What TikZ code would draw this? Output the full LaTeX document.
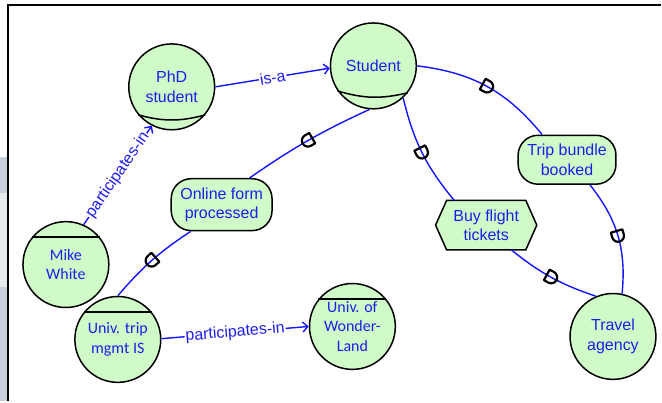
\documentclass[tikz,border=0pt]{standalone}
\usepackage{fontspec}
\setmainfont{Liberation Sans}
\newfontfamily\calfont{Carlito}
\usetikzlibrary{arrows.meta,decorations.markings,backgrounds,calc}
\definecolor{nodefill}{RGB}{208,250,200}
\definecolor{txtblue}{RGB}{30,30,235}
\definecolor{lnblue}{RGB}{20,20,255}
\definecolor{stripA}{RGB}{198,209,220}
\definecolor{stripB}{RGB}{230,234,238}
\begin{document}
\begin{tikzpicture}[x=1pt,y=1pt,
  ent/.style={circle, draw=black, line width=1.5pt, fill=nodefill, minimum size=86pt, inner sep=0pt, align=center, text=txtblue, font=\fontsize{16}{19.5}\selectfont},
  agent/.style={ent, font=\calfont\fontsize{16}{19.5}\selectfont},
  goal/.style={rectangle, rounded corners=20pt, draw=black, line width=1.5pt, fill=nodefill, inner sep=0pt, align=center, text=txtblue, font=\fontsize{16}{19.5}\selectfont},
  task/.style={rectangle, inner sep=0pt, align=center, text=txtblue, font=\fontsize{16}{19.5}\selectfont, minimum width=101pt, minimum height=49pt},
  capl/.style={draw=black, line width=1.5pt},
  conn/.style={draw=lnblue, line width=1.4pt},
  arr/.style={conn, -{Straight Barb[length=5pt,width=10pt]}},
  lbl/.style={sloped, fill=white, inner sep=1pt, text=txtblue, font=\fontsize{16}{19}\selectfont},
  dmark/.style={postaction={decorate, decoration={markings, mark=at position 0.5 with {\draw[black, line width=2.2pt, line join=round] (-5pt,6pt) -- (0pt,6pt) arc[start angle=90, end angle=-90, radius=6pt] -- (-5pt,-6pt) -- cycle;}}}}
]
\begin{scope}[on background layer]
  \fill[white] (0,0) rectangle (662,-402);
  \fill[stripA] (0,-157) rectangle (7,-193);
  \fill[stripB] (0,-193) rectangle (7,-287);
  \fill[stripA] (0,-287) rectangle (7,-402);
  \draw[line width=2.2pt] (8,-402) -- (8,-5) -- (662,-5);
\end{scope}
\useasboundingbox (0,0) rectangle (662,-402);

% nodes
\node[ent] (phd) at (172,-87) {PhD\\student};
\node[ent] (student) at (374,-66) {Student};
\node[agent] (mike) at (66,-265) {Mike\\White};
\node[agent] (uts) at (118,-340) {Univ. trip\\mgmt IS};
\node[agent] (uow) at (353,-327) {Univ. of\\Wonder-\\Land};
\node[ent] (ta) at (614,-337) {Travel\\agency};
\node[goal, minimum width=101pt, minimum height=52pt] (ofp) at (222,-205) {Online form\\processed};
\node[goal, minimum width=98pt, minimum height=49pt] (tbb) at (568,-160) {Trip bundle\\booked};
\node[task] (bft) at (487,-225.5) {Buy flight\\tickets};
\begin{scope}[on background layer]
  \draw[fill=nodefill, line width=1.5pt, line join=miter]
    (bft.west) -- ([xshift=11pt]bft.north west) -- ([xshift=-11pt]bft.north east)
    -- (bft.east) -- ([xshift=-11pt]bft.south east) -- ([xshift=11pt]bft.south west) -- cycle;
\end{scope}

% caps
\draw[capl] (phd.-140) to[bend right=15] (phd.-40);
\draw[capl] (student.-145) to[bend right=15] (student.-38);
\draw[capl] (mike.141) -- (mike.39);
\draw[capl] (uts.141) -- (uts.39);
\draw[capl] (uow.141) -- (uow.39);

% labelled links
\draw[arr] (phd.0) -- node[lbl]{is-a} (student.183);
\draw[arr] (mike.66) -- node[lbl]{participates-in} (phd.243);
\draw[arr] (uts.1) -- node[lbl]{participates-in} (uow.180);

% dependency links
\draw[conn,dmark] (student.265) to[bend right=5] ([xshift=28pt]ofp.north);
\draw[conn,dmark] ([xshift=-31pt]ofp.south) to[bend right=8] (uts.north);
\draw[conn,dmark] (student.east) to[bend left=22] ([xshift=-25pt]tbb.north);
\draw[conn,dmark] ([xshift=23pt]tbb.south) to[bend left=22] (ta.78);
\draw[conn,dmark] (student.-47) to[bend right=13] ([xshift=-32pt]bft.north);
\draw[conn,dmark] ([xshift=25pt]bft.south) to[bend right=10] (ta.113);
\end{tikzpicture}
\end{document}
